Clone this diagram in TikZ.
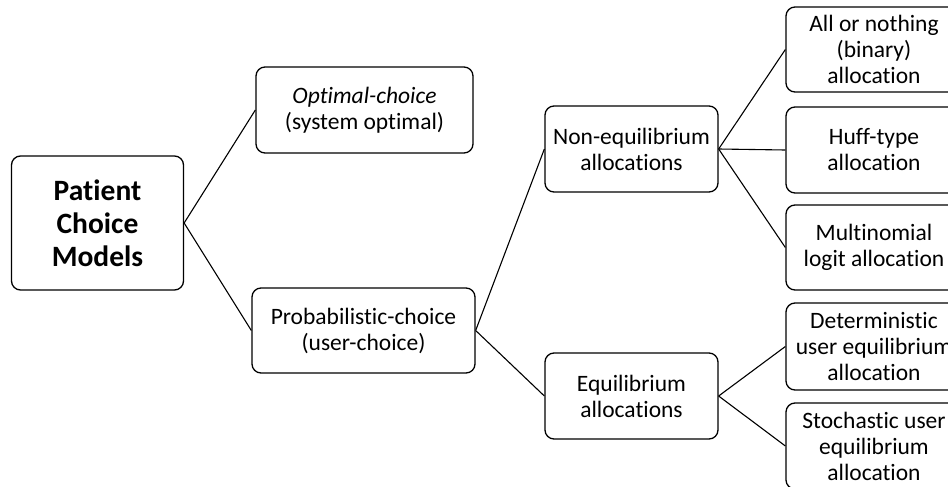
\documentclass[tikz,border=0pt]{standalone}
\usepackage{fontspec}
\setmainfont{Carlito}[Ligatures=NoCommon]
\begin{document}
\begin{tikzpicture}[x=1pt,y=1pt,
  box/.style={draw, line width=1.3pt, rounded corners=9pt, align=center, inner sep=0pt,
    font=\fontsize{23.5}{26}\selectfont},
  rbox/.style={box, minimum width=176},
  link/.style={line width=1.1pt}]
\useasboundingbox (0,0) rectangle (948,-487);
\node[box, minimum width=172, minimum height=134, font=\fontsize{29.5}{33}\selectfont\bfseries] (pcm) at (97.5,-223) {Patient\\Choice\\Models};
\node[box, minimum width=217, minimum height=86] (opt) at (364.5,-110) {\textit{Optimal-choice}\\(system optimal)};
\node[box, minimum width=223, minimum height=85] (prob) at (363.5,-330.5) {Probabilistic-choice\\(user-choice)};
\node[box, minimum width=173, minimum height=86] (noneq) at (631.5,-149) {Non-equilibrium\\allocations};
\node[box, minimum width=173, minimum height=86] (eq) at (631.5,-396) {Equilibrium\\allocations};
\node[rbox, minimum height=85] (all) at (874,-49.5) {All or nothing\\(binary)\\allocation};
\node[rbox, minimum height=86] (huff) at (874,-150) {Huff-type\\allocation};
\node[rbox, minimum height=85] (multi) at (874,-247.5) {Multinomial\\logit allocation};
\node[rbox, minimum height=87] (det) at (874,-346.5) {Deterministic\\user equilibrium\\allocation};
\node[rbox, minimum height=86] (stoch) at (874,-446) {Stochastic user\\equilibrium\\allocation};
\draw[link] (pcm.east) -- (opt.west);
\draw[link] (pcm.east) -- (prob.west);
\draw[link] (prob.east) -- (noneq.west);
\draw[link] (prob.east) -- (eq.west);
\draw[link] (noneq.east) -- (all.west);
\draw[link] (noneq.east) -- (huff.west);
\draw[link] (noneq.east) -- (multi.west);
\draw[link] (eq.east) -- (det.west);
\draw[link] (eq.east) -- (stoch.west);
\end{tikzpicture}
\end{document}
